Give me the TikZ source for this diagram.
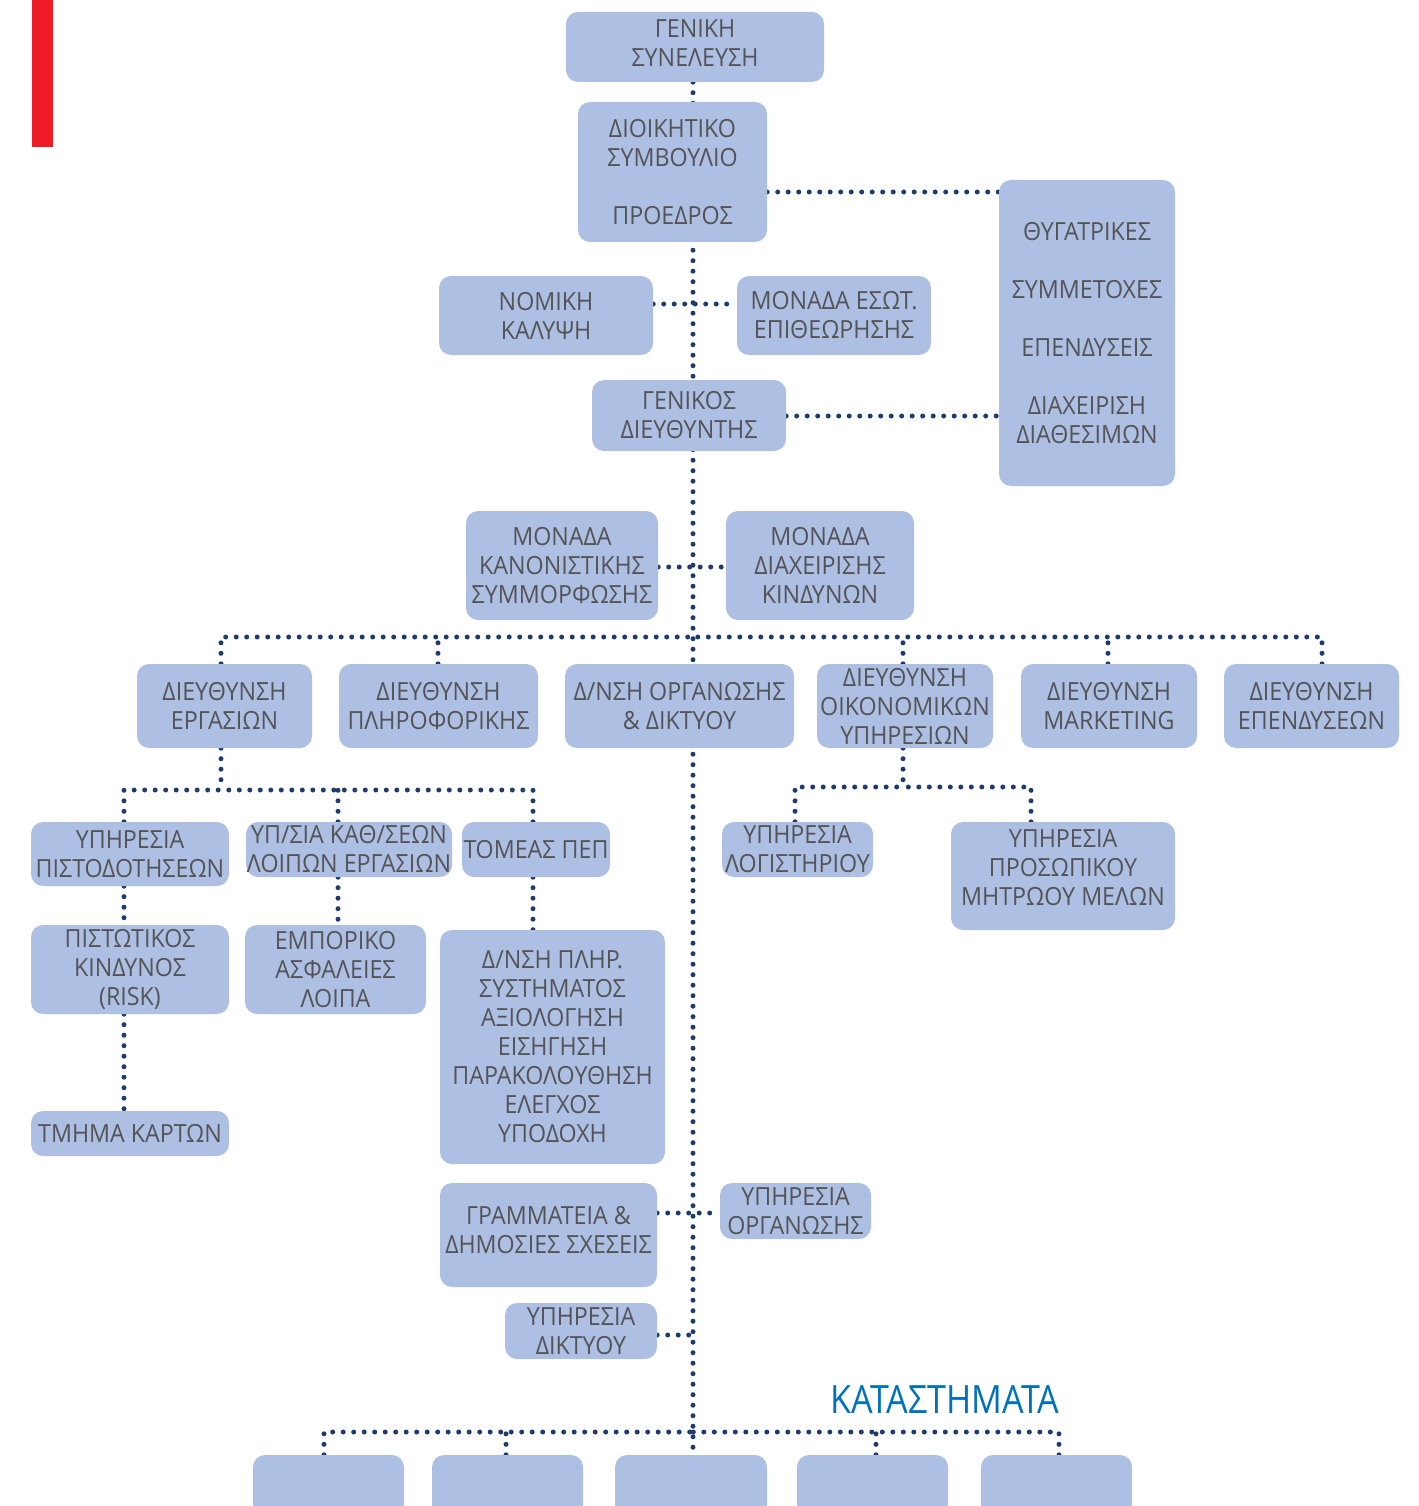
\documentclass[tikz,border=0pt]{standalone}
\usepackage{fontspec}
\setmainfont{Open Sans}[FakeStretch=0.93]
\newfontfamily\katfont{Open Sans}[FakeStretch=0.875]
\usetikzlibrary{backgrounds}
\definecolor{boxfill}{HTML}{ADBFE3}
\definecolor{boxtext}{HTML}{545456}
\definecolor{dotcol}{HTML}{1F3A6E}
\definecolor{redbar}{HTML}{ED1C24}
\definecolor{katblue}{HTML}{0072BC}
\tikzset{
  boxlab/.style={inner sep=0pt, align=center, text=boxtext, font=\fontsize{25}{29}\selectfont},
  box/.style={fill=boxfill, rounded corners=12pt, boxlab},
  dotline/.style={draw=dotcol, line width=5pt, line cap=round, dash pattern=on 0pt off 10.5pt},
}
\begin{document}
\begin{tikzpicture}[x=1pt,y=-1pt]
\useasboundingbox (0,0) rectangle (1418,1506);
\clip (0,0) rectangle (1418,1506);
\fill[redbar] (32,0) rectangle (53,147);

% top
\node[box, minimum width=258pt, minimum height=70pt,
  label={[boxlab, yshift=4pt]center:{ΓΕΝΙΚΗ\\ΣΥΝΕΛΕΥΣΗ}}] (sy) at (695,47) {};
\node[box, minimum width=189pt, minimum height=140pt] (ds) at (672.5,172) {ΔΙΟΙΚΗΤΙΚΟ\\ΣΥΜΒΟΥΛΙΟ\\[29pt]ΠΡΟΕΔΡΟΣ};
\node[box, minimum width=214pt, minimum height=79pt] (nk) at (546,315.5) {ΝΟΜΙΚΗ\\ΚΑΛΥΨΗ};
\node[box, minimum width=194pt, minimum height=79pt] (me) at (834,315.5) {ΜΟΝΑΔΑ ΕΣΩΤ.\\ΕΠΙΘΕΩΡΗΣΗΣ};
\node[box, minimum width=194pt, minimum height=71pt] (gd) at (689,415.5) {ΓΕΝΙΚΟΣ\\ΔΙΕΥΘΥΝΤΗΣ};
\node[box, minimum width=176pt, minimum height=306pt] (rb) at (1087,333) {ΘΥΓΑΤΡΙΚΕΣ\\[29pt]ΣΥΜΜΕΤΟΧΕΣ\\[29pt]ΕΠΕΝΔΥΣΕΙΣ\\[29pt]ΔΙΑΧΕΙΡΙΣΗ\\ΔΙΑΘΕΣΙΜΩΝ};
\node[box, minimum width=192pt, minimum height=109pt] (mk) at (562,565.5) {ΜΟΝΑΔΑ\\ΚΑΝΟΝΙΣΤΙΚΗΣ\\ΣΥΜΜΟΡΦΩΣΗΣ};
\node[box, minimum width=188pt, minimum height=109pt] (md) at (820,565.5) {ΜΟΝΑΔΑ\\ΔΙΑΧΕΙΡΙΣΗΣ\\ΚΙΝΔΥΝΩΝ};

% directorates
\node[box, minimum width=175pt, minimum height=84pt] (de) at (224.5,706) {ΔΙΕΥΘΥΝΣΗ\\ΕΡΓΑΣΙΩΝ};
\node[box, minimum width=199pt, minimum height=84pt] (dp) at (438.5,706) {ΔΙΕΥΘΥΝΣΗ\\ΠΛΗΡΟΦΟΡΙΚΗΣ};
\node[box, minimum width=229pt, minimum height=84pt] (do) at (679.5,706) {Δ/ΝΣΗ ΟΡΓΑΝΩΣΗΣ\\\&~ΔΙΚΤΥΟΥ};
\node[box, minimum width=176pt, minimum height=84pt] (dk) at (905,706) {ΔΙΕΥΘΥΝΣΗ\\ΟΙΚΟΝΟΜΙΚΩΝ\\ΥΠΗΡΕΣΙΩΝ};
\node[box, minimum width=176pt, minimum height=84pt] (dm) at (1109,706) {ΔΙΕΥΘΥΝΣΗ\\MARKETING};
\node[box, minimum width=175pt, minimum height=84pt] (dn) at (1311.5,706) {ΔΙΕΥΘΥΝΣΗ\\ΕΠΕΝΔΥΣΕΩΝ};

% under ergasion
\node[box, minimum width=198pt, minimum height=64pt] (yp) at (130,854) {ΥΠΗΡΕΣΙΑ\\ΠΙΣΤΟΔΟΤΗΣΕΩΝ};
\node[box, minimum width=206pt, minimum height=55pt] (yk) at (349,849.5) {ΥΠ/ΣΙΑ ΚΑΘ/ΣΕΩΝ\\ΛΟΙΠΩΝ ΕΡΓΑΣΙΩΝ};
\node[box, minimum width=148pt, minimum height=55pt] (tp) at (536,849.5) {ΤΟΜΕΑΣ ΠΕΠ};
\node[box, minimum width=198pt, minimum height=89pt] (pk) at (130,969.5) {ΠΙΣΤΩΤΙΚΟΣ\\ΚΙΝΔΥΝΟΣ\\(RISK)};
\node[box, minimum width=181pt, minimum height=89pt] (ea) at (335.5,969.5) {ΕΜΠΟΡΙΚΟ\\ΑΣΦΑΛΕΙΕΣ\\ΛΟΙΠΑ};
\node[box, minimum width=225pt, minimum height=234pt] (dps) at (552.5,1047) {Δ/ΝΣΗ ΠΛΗΡ.\\ΣΥΣΤΗΜΑΤΟΣ\\ΑΞΙΟΛΟΓΗΣΗ\\ΕΙΣΗΓΗΣΗ\\ΠΑΡΑΚΟΛΟΥΘΗΣΗ\\ΕΛΕΓΧΟΣ\\ΥΠΟΔΟΧΗ};
\node[box, minimum width=198pt, minimum height=45pt] (tk) at (130,1133.5) {ΤΜΗΜΑ ΚΑΡΤΩΝ};

% under oikonomikon
\node[box, minimum width=151pt, minimum height=55pt] (yl) at (797.5,849.5) {ΥΠΗΡΕΣΙΑ\\ΛΟΓΙΣΤΗΡΙΟΥ};
\node[box, minimum width=224pt, minimum height=108pt,
  label={[boxlab, yshift=8pt]center:{ΥΠΗΡΕΣΙΑ\\ΠΡΟΣΩΠΙΚΟΥ\\ΜΗΤΡΩΟΥ ΜΕΛΩΝ}}] (ypr) at (1063,876) {};

% lower
\node[box, minimum width=217pt, minimum height=104pt,
  label={[boxlab, yshift=5pt]center:{ΓΡΑΜΜΑΤΕΙΑ \&\\ΔΗΜΟΣΙΕΣ ΣΧΕΣΕΙΣ}}] (gr) at (548.5,1235) {};
\node[box, minimum width=151pt, minimum height=56pt] (yo) at (795.5,1211) {ΥΠΗΡΕΣΙΑ\\ΟΡΓΑΝΩΣΗΣ};
\node[box, minimum width=152pt, minimum height=56pt] (ydk) at (581,1331) {ΥΠΗΡΕΣΙΑ\\ΔΙΚΤΥΟΥ};
\node[text=katblue, font=\katfont\fontsize{39}{44}\selectfont, inner sep=0pt] (kat) at (945,1400) {ΚΑΤΑΣΤΗΜΑΤΑ};

% stores
\node[box, minimum width=151pt, minimum height=90pt] (s1) at (328.5,1500) {};
\node[box, minimum width=151pt, minimum height=90pt] (s2) at (507.5,1500) {};
\node[box, minimum width=152pt, minimum height=90pt] (s3) at (691,1500) {};
\node[box, minimum width=151pt, minimum height=90pt] (s4) at (872.5,1500) {};
\node[box, minimum width=151pt, minimum height=90pt] (s5) at (1056.5,1500) {};

\begin{scope}[on background layer]
  \coordinate (hA) at (693,637);
  \coordinate (hB) at (221,790);
  \coordinate (hC) at (903,787);
  \coordinate (hS) at (693,1432);
  \coordinate (jD) at (693,1335);
  % spine
  \draw[dotline] (sy.south -| 693,0) -- (s3.north -| 693,0);
  % side links
  \draw[dotline] (ds.east |- 0,192) -- (rb.west |- 0,192);
  \draw[dotline] (gd.east |- 0,416) -- (rb.west |- 0,416);
  \draw[dotline] (nk.east |- 0,304) -- (me.west |- 0,304);
  \draw[dotline] (mk.east |- 0,567) -- (md.west |- 0,567);
  % directorates bar
  \draw[dotline] (de.north -| 221,0) |- (hA);
  \draw[dotline] (dn.north -| 1322,0) |- (hA);
  \draw[dotline] (dp.north -| 438,0) -- (438,637);
  \draw[dotline] (dk.north -| 903,0) -- (903,637);
  \draw[dotline] (dm.north -| 1108,0) -- (1108,637);
  % ergasion subtree
  \draw[dotline] (de.south -| hB) -- (hB);
  \draw[dotline] (yp.north -| 124,0) |- (hB);
  \draw[dotline] (tp.north -| 533,0) |- (hB);
  \draw[dotline] (yk.north -| 338,0) -- (338,790);
  \draw[dotline] (yp.south -| 124,0) -- (pk.north -| 124,0);
  \draw[dotline] (pk.south -| 124,0) -- (tk.north -| 124,0);
  \draw[dotline] (yk.south -| 338,0) -- (ea.north -| 338,0);
  \draw[dotline] (tp.south -| 533,0) -- (dps.north -| 533,0);
  % oikonomikon subtree
  \draw[dotline] (dk.south -| hC) -- (hC);
  \draw[dotline] (yl.north -| 795,0) |- (hC);
  \draw[dotline] (ypr.north -| 1031,0) |- (hC);
  % lower links
  \draw[dotline] (gr.east |- 0,1213) -- (yo.west |- 0,1213);
  \draw[dotline] (ydk.east |- jD) -- (jD);
  % stores
  \draw[dotline] (s1.north -| 324,0) |- (hS);
  \draw[dotline] (s5.north -| 1059,0) |- (hS);
  \draw[dotline] (s2.north -| 506,0) -- (506,1432);
  \draw[dotline] (s4.north -| 876,0) -- (876,1432);
\end{scope}
\end{tikzpicture}
\end{document}
